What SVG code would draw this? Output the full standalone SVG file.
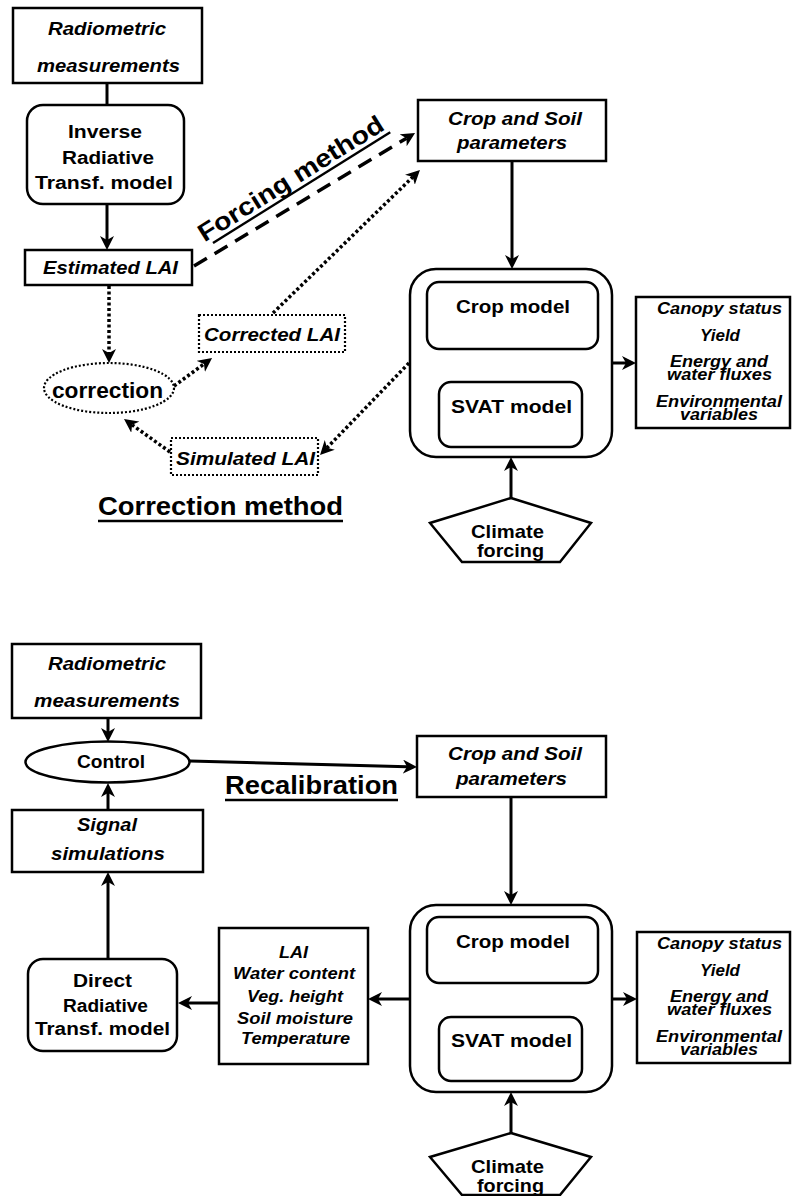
<svg xmlns="http://www.w3.org/2000/svg" width="792" height="1196" viewBox="0 0 792 1196">
<style>
text{font-family:"Liberation Sans",Arial,sans-serif;font-weight:bold;fill:#000}
.i{font-style:italic}
.box{fill:#fff;stroke:#000;stroke-width:2.5}
.dbox{fill:#fff;stroke:#000;stroke-width:2.2;stroke-dasharray:2 2}
.ln{fill:none;stroke:#000;stroke-width:3}
.dot{fill:none;stroke:#000;stroke-width:3.5;stroke-dasharray:3 2.5}
.dash{fill:none;stroke:#000;stroke-width:3.5;stroke-dasharray:15 9}
.ul{stroke:#000;stroke-width:2.5}
</style>
<defs>
<marker id="ah" viewBox="0 0 14 14" refX="4" refY="7" markerWidth="14" markerHeight="14" markerUnits="userSpaceOnUse" orient="auto">
<path d="M0,0 L14,7 L0,14 L4,7 z" fill="#000"/>
</marker>
</defs>
<rect width="792" height="1196" fill="#fff"/>

<g id="connectors">
<line class="ln" x1="107" y1="83" x2="107" y2="105"/>
<line class="ln" x1="107" y1="204" x2="107" y2="240" marker-end="url(#ah)"/>
<line class="dash" x1="194" y1="266" x2="406.5" y2="138.2" marker-end="url(#ah)"/>
<line class="dot" x1="273" y1="313" x2="412.8" y2="177" marker-end="url(#ah)"/>
<line class="dot" x1="109" y1="286" x2="109" y2="353" marker-end="url(#ah)"/>
<line class="dot" x1="174" y1="386" x2="204" y2="364" marker-end="url(#ah)"/>
<line class="dot" x1="409" y1="363" x2="327" y2="447.8" marker-end="url(#ah)"/>
<line class="dot" x1="170" y1="452" x2="132.1" y2="424.8" marker-end="url(#ah)"/>
<line class="ln" x1="512" y1="161" x2="512" y2="259" marker-end="url(#ah)"/>
<line class="ln" x1="477" y1="382" x2="477" y2="359" marker-end="url(#ah)"/>
<line class="ln" x1="546" y1="349" x2="546" y2="372" marker-end="url(#ah)"/>
<line class="ln" x1="612" y1="363" x2="626" y2="363" marker-end="url(#ah)"/>
<line class="ln" x1="511" y1="498" x2="511" y2="467" marker-end="url(#ah)"/>

<line class="ln" x1="108" y1="718" x2="108" y2="732" marker-end="url(#ah)"/>
<line class="ln" x1="108" y1="810" x2="108" y2="793" marker-end="url(#ah)"/>
<line class="ln" x1="190" y1="761" x2="407" y2="766.7" marker-end="url(#ah)"/>
<line class="ln" x1="511" y1="797" x2="511" y2="895" marker-end="url(#ah)"/>
<line class="ln" x1="477" y1="1017" x2="477" y2="993" marker-end="url(#ah)"/>
<line class="ln" x1="546" y1="983" x2="546" y2="1007" marker-end="url(#ah)"/>
<line class="ln" x1="612" y1="999" x2="627" y2="999" marker-end="url(#ah)"/>
<line class="ln" x1="410" y1="999" x2="378" y2="999" marker-end="url(#ah)"/>
<line class="ln" x1="219" y1="1003" x2="188" y2="1003" marker-end="url(#ah)"/>
<line class="ln" x1="108" y1="959" x2="108" y2="882" marker-end="url(#ah)"/>
<line class="ln" x1="511" y1="1133" x2="511" y2="1102" marker-end="url(#ah)"/>
</g>

<!-- top part -->
<g id="radiometric1">
<rect class="box" x="13" y="8" width="189" height="75"/>
<text class="i" x="48" y="35" font-size="18" textLength="118" lengthAdjust="spacingAndGlyphs">Radiometric</text>
<text class="i" x="37" y="72" font-size="18" textLength="143" lengthAdjust="spacingAndGlyphs">measurements</text>
</g>
<g id="inverse-rt">
<rect class="box" x="27" y="105" width="157" height="99" rx="16"/>
<text x="68" y="138" font-size="18" textLength="74" lengthAdjust="spacingAndGlyphs">Inverse</text>
<text x="62" y="164" font-size="18" textLength="92" lengthAdjust="spacingAndGlyphs">Radiative</text>
<text x="35" y="189" font-size="18" textLength="138" lengthAdjust="spacingAndGlyphs">Transf. model</text>
</g>
<g id="estimated-lai">
<rect class="box" x="25" y="250" width="167" height="35"/>
<text class="i" x="43" y="274" font-size="18" textLength="135" lengthAdjust="spacingAndGlyphs">Estimated LAI</text>
</g>
<g id="forcing-label" transform="translate(213,243) rotate(-32)">
<line class="ul" x1="0" y1="0" x2="209" y2="0"/>
<text x="-7" y="-5" font-size="25" textLength="214" lengthAdjust="spacingAndGlyphs">Forcing method</text>
</g>
<g id="cropsoil1">
<rect class="box" x="418" y="100" width="188" height="61"/>
<text class="i" x="448" y="125" font-size="18" textLength="134" lengthAdjust="spacingAndGlyphs">Crop and Soil</text>
<text class="i" x="457" y="149" font-size="18" textLength="110" lengthAdjust="spacingAndGlyphs">parameters</text>
</g>
<g id="model1">
<rect class="box" x="410" y="269" width="202" height="188" rx="26"/>
<g id="crop-model1">
<rect class="box" x="427" y="282" width="171" height="67" rx="12"/>
<text x="456" y="313" font-size="18.5" textLength="114" lengthAdjust="spacingAndGlyphs">Crop model</text>
</g>
<g id="svat-model1">
<rect class="box" x="439" y="382" width="143" height="65" rx="12"/>
<text x="451" y="413" font-size="18.5" textLength="121" lengthAdjust="spacingAndGlyphs">SVAT model</text>
</g>
</g>
<g id="outputs1">
<rect class="box" x="636" y="297" width="154" height="131"/>
<text class="i" x="657" y="314" font-size="16" textLength="125" lengthAdjust="spacingAndGlyphs">Canopy status</text>
<text class="i" x="700" y="341" font-size="16" textLength="40" lengthAdjust="spacingAndGlyphs">Yield</text>
<text class="i" x="670" y="367" font-size="16" textLength="98" lengthAdjust="spacingAndGlyphs">Energy and</text>
<text class="i" x="667" y="380" font-size="16" textLength="105" lengthAdjust="spacingAndGlyphs">water fluxes</text>
<text class="i" x="656" y="407" font-size="16" textLength="126" lengthAdjust="spacingAndGlyphs">Environmental</text>
<text class="i" x="680" y="420" font-size="16" textLength="78" lengthAdjust="spacingAndGlyphs">variables</text>
</g>
<g id="climate1">
<polygon class="box" points="511,498 591,523 560,562 462,562 430,523"/>
<text x="471" y="538" font-size="18.5" textLength="73" lengthAdjust="spacingAndGlyphs">Climate</text>
<text x="477" y="557" font-size="18.5" textLength="67" lengthAdjust="spacingAndGlyphs">forcing</text>
</g>
<g id="correction">
<ellipse class="dbox" cx="109" cy="388" rx="65" ry="25"/>
<text x="52" y="398" font-size="22" textLength="111" lengthAdjust="spacingAndGlyphs">correction</text>
</g>
<g id="corrected-lai">
<rect class="dbox" x="199" y="315" width="146" height="37"/>
<text class="i" x="204" y="341" font-size="18" textLength="136" lengthAdjust="spacingAndGlyphs">Corrected LAI</text>
</g>
<g id="simulated-lai">
<rect class="dbox" x="171" y="438" width="147" height="37"/>
<text class="i" x="176" y="465" font-size="18" textLength="139" lengthAdjust="spacingAndGlyphs">Simulated LAI</text>
</g>
<g id="correction-label">
<text x="98" y="515" font-size="26" textLength="245" lengthAdjust="spacingAndGlyphs">Correction method</text>
<line class="ul" x1="98" y1="521" x2="343" y2="521"/>
</g>

<!-- bottom part -->
<g id="radiometric2">
<rect class="box" x="12" y="644" width="189" height="74"/>
<text class="i" x="48" y="670" font-size="18" textLength="118" lengthAdjust="spacingAndGlyphs">Radiometric</text>
<text class="i" x="34" y="707" font-size="18" textLength="146" lengthAdjust="spacingAndGlyphs">measurements</text>
</g>
<g id="control">
<ellipse class="box" cx="107.5" cy="762" rx="82" ry="20.5"/>
<text x="77" y="768" font-size="18" textLength="68" lengthAdjust="spacingAndGlyphs">Control</text>
</g>
<g id="recalibration-label">
<text x="225" y="794" font-size="25" textLength="173" lengthAdjust="spacingAndGlyphs">Recalibration</text>
<line class="ul" x1="225" y1="800" x2="398" y2="800"/>
</g>
<g id="signal">
<rect class="box" x="12" y="810" width="191" height="62"/>
<text class="i" x="77" y="831" font-size="18" textLength="60" lengthAdjust="spacingAndGlyphs">Signal</text>
<text class="i" x="51" y="860" font-size="18" textLength="114" lengthAdjust="spacingAndGlyphs">simulations</text>
</g>
<g id="cropsoil2">
<rect class="box" x="417" y="736" width="189" height="61"/>
<text class="i" x="448" y="760" font-size="18" textLength="134" lengthAdjust="spacingAndGlyphs">Crop and Soil</text>
<text class="i" x="456" y="785" font-size="18" textLength="111" lengthAdjust="spacingAndGlyphs">parameters</text>
</g>
<g id="direct-rt">
<rect class="box" x="28" y="959" width="149" height="92" rx="15"/>
<text x="73" y="987" font-size="18" textLength="59" lengthAdjust="spacingAndGlyphs">Direct</text>
<text x="63" y="1012" font-size="18" textLength="85" lengthAdjust="spacingAndGlyphs">Radiative</text>
<text x="35" y="1035" font-size="18" textLength="135" lengthAdjust="spacingAndGlyphs">Transf. model</text>
</g>
<g id="variables-box">
<rect class="box" x="219" y="928" width="149" height="136"/>
<text class="i" x="279" y="958" font-size="16" textLength="29" lengthAdjust="spacingAndGlyphs">LAI</text>
<text class="i" x="233" y="979" font-size="16" textLength="122" lengthAdjust="spacingAndGlyphs">Water content</text>
<text class="i" x="247" y="1002" font-size="16" textLength="96" lengthAdjust="spacingAndGlyphs">Veg. height</text>
<text class="i" x="237" y="1024" font-size="16" textLength="116" lengthAdjust="spacingAndGlyphs">Soil moisture</text>
<text class="i" x="241" y="1044" font-size="16" textLength="109" lengthAdjust="spacingAndGlyphs">Temperature</text>
</g>
<g id="model2">
<rect class="box" x="410" y="905" width="202" height="187" rx="26"/>
<g id="crop-model2">
<rect class="box" x="427" y="917" width="171" height="66" rx="12"/>
<text x="456" y="948" font-size="18.5" textLength="114" lengthAdjust="spacingAndGlyphs">Crop model</text>
</g>
<g id="svat-model2">
<rect class="box" x="439" y="1017" width="143" height="64" rx="12"/>
<text x="451" y="1047" font-size="18.5" textLength="121" lengthAdjust="spacingAndGlyphs">SVAT model</text>
</g>
</g>
<g id="outputs2">
<rect class="box" x="637" y="932" width="153" height="131"/>
<text class="i" x="657" y="949" font-size="16" textLength="125" lengthAdjust="spacingAndGlyphs">Canopy status</text>
<text class="i" x="700" y="976" font-size="16" textLength="40" lengthAdjust="spacingAndGlyphs">Yield</text>
<text class="i" x="670" y="1002" font-size="16" textLength="98" lengthAdjust="spacingAndGlyphs">Energy and</text>
<text class="i" x="667" y="1015" font-size="16" textLength="105" lengthAdjust="spacingAndGlyphs">water fluxes</text>
<text class="i" x="656" y="1042" font-size="16" textLength="126" lengthAdjust="spacingAndGlyphs">Environmental</text>
<text class="i" x="680" y="1055" font-size="16" textLength="78" lengthAdjust="spacingAndGlyphs">variables</text>
</g>
<g id="climate2">
<polygon class="box" points="511,1133 591,1157 560,1195 462,1195 430,1157"/>
<text x="471" y="1173" font-size="18.5" textLength="73" lengthAdjust="spacingAndGlyphs">Climate</text>
<text x="477" y="1192" font-size="18.5" textLength="67" lengthAdjust="spacingAndGlyphs">forcing</text>
</g>
</svg>
